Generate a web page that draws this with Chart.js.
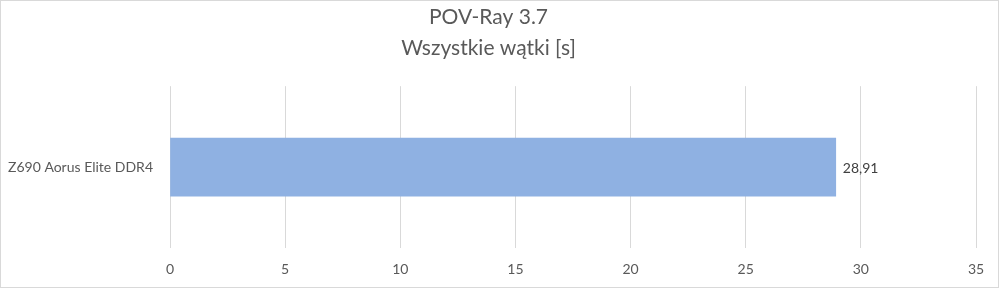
<!DOCTYPE html>
<html>
<head>
<meta charset="utf-8">
<script src="https://cdn.jsdelivr.net/npm/chart.js@4.4.1/dist/chart.umd.min.js"></script>
<style>
  html, body { margin: 0; padding: 0; background: #fff; }
  #wrap { width: 999px; height: 288px; box-sizing: border-box; border: 1px solid #d9d9d9; }
  #wrap canvas { display: block; }
</style>
</head>
<body>
<div id="wrap"><canvas id="povrayGraph" width="997" height="286"></canvas></div>
<script>
// data
const titleLines = ['POV-Ray 3.7', 'Wszystkie wątki [s]'];
const boards = ['Z690 Aorus Elite DDR4'];
const times = [28.91];
const tickMin = 0;
const tickMax = 35;
const tickStep = 5;

const textColor = '#595959';
const gridColor = '#d9d9d9';

// value label next to bar end
const valueLabels = {
  id: 'valueLabels',
  afterDatasetsDraw(chart) {
    const ctx = chart.ctx;
    const meta = chart.getDatasetMeta(0);
    ctx.save();
    ctx.font = '14px Lato';
    ctx.fillStyle = '#404040';
    ctx.textAlign = 'left';
    ctx.textBaseline = 'middle';
    meta.data.forEach((bar, i) => {
      const txt = times[i].toFixed(2).replace('.', ',');
      ctx.fillText(txt, bar.x + 7, bar.y + 1);
    });
    ctx.restore();
  }
};

const ctxPov = document.getElementById('povrayGraph');

new Chart(ctxPov, {
  type: 'bar',
  data: {
    labels: boards,
    datasets: [{
      data: times,
      backgroundColor: '#8fb1e2',
      borderWidth: 0,
      barThickness: 58
    }]
  },
  options: {
    indexAxis: 'y',
    responsive: false,
    animation: false,
    layout: { padding: { left: 0, right: 22, top: 0, bottom: 0 } },
    plugins: {
      legend: { display: false },
      tooltip: { enabled: false },
      title: {
        display: true,
        text: titleLines,
        color: textColor,
        font: { family: 'Lato', size: 21, weight: 'normal', lineHeight: 1.48 },
        padding: { top: 1, bottom: 22 }
      }
    },
    scales: {
      x: {
        min: tickMin,
        max: tickMax,
        ticks: {
          stepSize: tickStep,
          color: textColor,
          font: { family: 'Lato', size: 14 },
          padding: 13
        },
        grid: { color: gridColor, drawTicks: false },
        border: { display: false },
        afterFit(scale) { scale.height = 39; }
      },
      y: {
        ticks: {
          color: textColor,
          font: { family: 'Lato', size: 14 },
          padding: 17
        },
        grid: { display: false, drawTicks: false },
        border: { display: false },
        afterFit(scale) { scale.width = 169; }
      }
    }
  },
  plugins: [valueLabels]
});
</script>
</body>
</html>
